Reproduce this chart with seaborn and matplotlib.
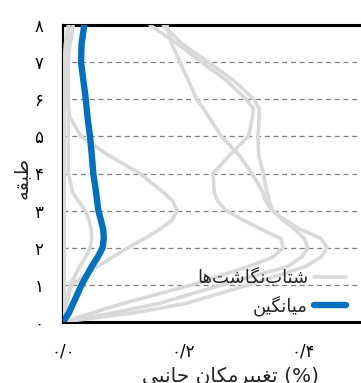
import matplotlib
matplotlib.use("Agg")
import matplotlib.pyplot as plt
import seaborn as sns
import pandas as pd

# ---------------- data ----------------
floors = [0, 0.25, 0.5, 1, 1.5, 1.75, 2, 2.25, 2.5, 2.75, 3, 3.25, 3.5, 4, 4.5,
          5, 5.5, 5.75, 6, 6.5, 7, 7.5, 8]

rec_1 = [0, 0.001, 0.002, 0.002, 0.002, 0.002, 0.002, 0.002, 0.002, 0.002, 0.002,
         0.002, 0.002, 0.002, 0.002, 0.002, 0.002, 0.002, 0.002, 0.002, 0.002,
         0.004, 0.009]
rec_2 = [0, 0.003, 0.006, 0.014, 0.058, 0.083, 0.108, 0.136, 0.162, 0.182, 0.190,
         0.183, 0.167, 0.128, 0.075, 0.030, 0.012, 0.009, 0.008, 0.008, 0.008,
         0.012, 0.017]
rec_3 = [0, 0.003, 0.005, 0.012, 0.028, 0.038, 0.045, 0.048, 0.047, 0.043, 0.037,
         0.026, 0.016, 0.009, 0.009, 0.009, 0.009, 0.009, 0.009, 0.009, 0.009,
         0.009, 0.010]
rec_4 = [0, 0.050, 0.100, 0.215, 0.310, 0.350, 0.367, 0.363, 0.330, 0.300, 0.272,
         0.258, 0.252, 0.250, 0.278, 0.309, 0.316, 0.317, 0.305, 0.273, 0.231,
         0.190, 0.145]
rec_5 = [0, 0.085, 0.160, 0.265, 0.375, 0.398, 0.408, 0.402, 0.386, 0.366, 0.350,
         0.344, 0.340, 0.334, 0.326, 0.325, 0.327, 0.327, 0.318, 0.285, 0.242,
         0.198, 0.167]
rec_6 = [0, 0.120, 0.205, 0.310, 0.405, 0.430, 0.440, 0.430, 0.395, 0.370, 0.348,
         0.338, 0.333, 0.315, 0.293, 0.264, 0.244, 0.234, 0.223, 0.209, 0.195,
         0.181, 0.173]
records = [rec_1, rec_2, rec_3, rec_4, rec_5, rec_6]

mean_drift = [0, 0.010, 0.017, 0.031, 0.048, 0.058, 0.066, 0.068, 0.067, 0.063,
              0.059, 0.057, 0.055, 0.0505, 0.048, 0.045, 0.041, 0.0395, 0.038,
              0.034, 0.030, 0.031, 0.0355]

y_ticks = [0, 1, 2, 3, 4, 5, 6, 7, 8]
y_tick_labels = ["۰", "۱", "۲", "۳", "۴", "۵", "۶", "۷", "۸"]
x_ticks = [0.0, 0.2, 0.4]
x_tick_labels = ["۰/۰", "۰/۲", "۰/۴"]

label_records = "شتاب‌نگاشت‌ها"
label_mean = "میانگین"
x_label = "تغییرمکان جانبی"
y_label = "طبقه"

# ---------------- minimal Persian shaping (matplotlib has no shaping) ----------------
AR = {
    '\u0627': ('\uFE8D', '\uFE8E', None, None),
    '\u0628': ('\uFE8F', '\uFE90', '\uFE91', '\uFE92'),
    '\u062A': ('\uFE95', '\uFE96', '\uFE97', '\uFE98'),
    '\u062C': ('\uFE9D', '\uFE9E', '\uFE9F', '\uFEA0'),
    '\u0631': ('\uFEAD', '\uFEAE', None, None),
    '\u0634': ('\uFEB5', '\uFEB6', '\uFEB7', '\uFEB8'),
    '\u0637': ('\uFEC1', '\uFEC2', '\uFEC3', '\uFEC4'),
    '\u063A': ('\uFECD', '\uFECE', '\uFECF', '\uFED0'),
    '\u0642': ('\uFED5', '\uFED6', '\uFED7', '\uFED8'),
    '\u0645': ('\uFEE1', '\uFEE2', '\uFEE3', '\uFEE4'),
    '\u0646': ('\uFEE5', '\uFEE6', '\uFEE7', '\uFEE8'),
    '\u0647': ('\uFEE9', '\uFEEA', '\uFEEB', '\uFEEC'),
    '\u06A9': ('\uFB8E', '\uFB8F', '\uFB90', '\uFB91'),
    '\u06AF': ('\uFB92', '\uFB93', '\uFB94', '\uFB95'),
    '\u06CC': ('\uFBFC', '\uFBFD', '\uFBFE', '\uFBFF'),
}


def shape(s):
    out = []
    n = len(s)
    for i, ch in enumerate(s):
        if ch not in AR:
            if ch != '\u200c':
                out.append(ch)
            continue
        f = AR[ch]
        prev = s[i - 1] if i > 0 else ''
        nxt = s[i + 1] if i < n - 1 else ''
        jp = prev in AR and AR[prev][2] is not None
        jn = f[2] is not None and nxt in AR
        if jp and jn:
            out.append(f[3])
        elif jp:
            out.append(f[1])
        elif jn:
            out.append(f[2])
        else:
            out.append(f[0])
    return ''.join(reversed(out))


# ---------------- figure ----------------
sns.set_style("white")
plt.rcParams['font.family'] = ['DejaVu Sans']

W, H = 361, 383
fig = plt.figure(figsize=(W / 100, H / 100), dpi=100)
ax_l, ax_r, ax_t, ax_b = 63, 423, 25, 322
ax = fig.add_axes([ax_l / W, (H - ax_b) / H, (ax_r - ax_l) / W, (ax_b - ax_t) / H])

gray = "#d9d9d9"
blue = "#0070c0"

for i, rec in enumerate(records):
    df = pd.DataFrame({"drift": rec, "floor": floors})
    sns.lineplot(data=df, x="drift", y="floor", sort=False, estimator=None,
                 color=gray, lw=2.6, ax=ax, zorder=3,
                 label=shape(label_records) if i == 0 else "_nolegend_")

dfm = pd.DataFrame({"drift": mean_drift, "floor": floors})
sns.lineplot(data=dfm, x="drift", y="floor", sort=False, estimator=None,
             color=blue, lw=4.6, ax=ax, zorder=4, label=shape(label_mean))

ax.set_xlim(0, 0.6)
ax.set_ylim(0, 8)
ax.set_yticks(y_ticks)
ax.set_yticklabels(y_tick_labels)
ax.set_xticks(x_ticks)
ax.set_xticklabels(x_tick_labels)
ax.tick_params(axis='both', length=0, labelsize=12, colors='black')
ax.tick_params(axis='y', pad=14)
ax.tick_params(axis='x', pad=15)

for yv in y_ticks[1:-1]:
    ax.axhline(yv, color="#7f7f7f", lw=0.9, ls=(0, (4, 3)), zorder=1)

for side in ["top", "bottom"]:
    ax.spines[side].set_color("black")
    ax.spines[side].set_linewidth(2.2)
ax.spines["left"].set_color("black")
ax.spines["left"].set_linewidth(1.6)
ax.spines["right"].set_visible(False)

ax.set_xlabel(shape(x_label) + " (%)", fontsize=14.5)
ax.xaxis.set_label_coords((230 - ax_l) / (ax_r - ax_l), -(376 - ax_b) / (ax_b - ax_t))
ax.xaxis.label.set_va('center')
ax.set_ylabel(shape(y_label), fontsize=14)
ax.yaxis.set_label_coords(-(ax_l - 22) / (ax_r - ax_l), (ax_b - 178) / (ax_b - ax_t))
ax.yaxis.label.set_va('center')

leg = ax.legend(loc="lower right", bbox_to_anchor=(346 / W, (H - 316) / H),
                bbox_transform=fig.transFigure, frameon=False, markerfirst=False,
                fontsize=13, handlelength=1.8, handletextpad=0.3, labelspacing=0.45,
                borderpad=0, borderaxespad=0)

fig.savefig("out.png", dpi=100)
